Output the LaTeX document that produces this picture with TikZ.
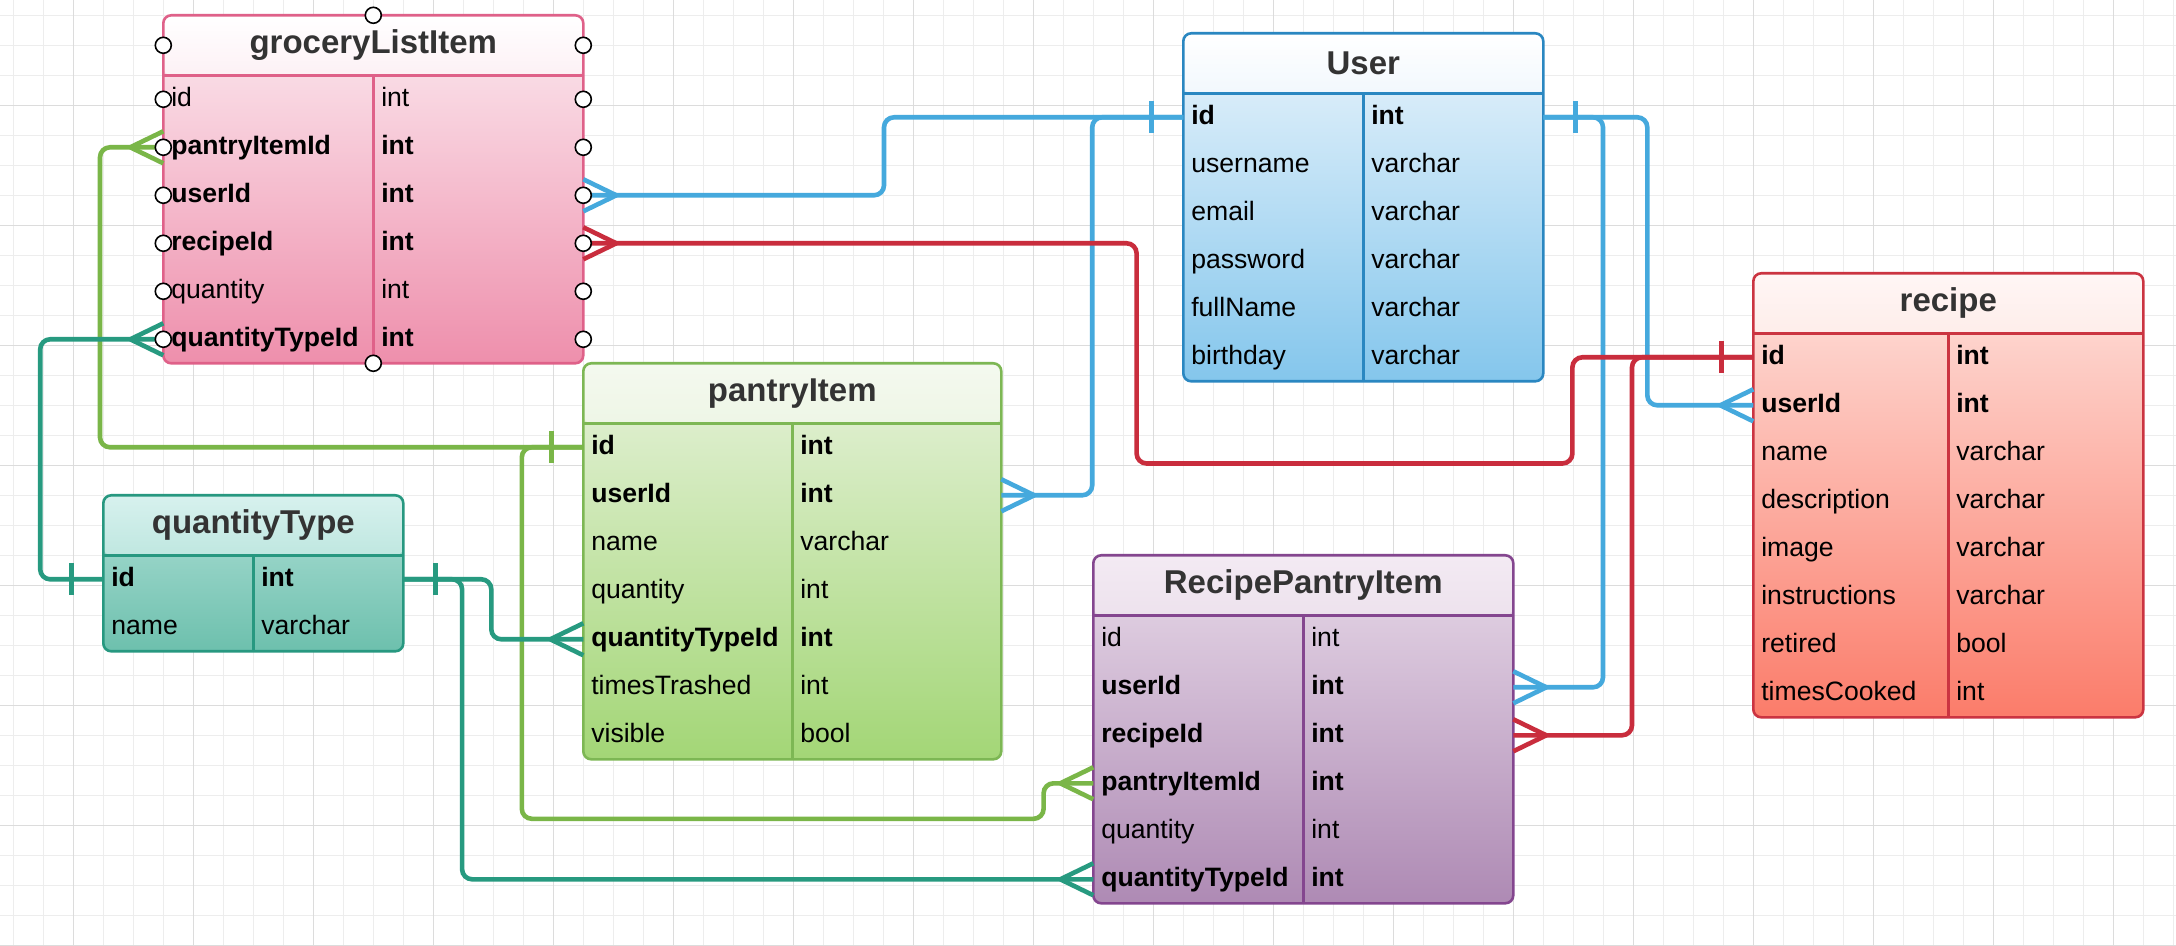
\documentclass[tikz,border=0pt]{standalone}
\usepackage{fontspec}
\setmainfont{Liberation Sans}
\usetikzlibrary{positioning}

\definecolor{gridMinor}{HTML}{EDEDED}
\definecolor{gridMajor}{HTML}{DCDCDC}
\definecolor{headText}{HTML}{333333}
% table colours
\definecolor{groceryLine}{HTML}{DF6189}
\definecolor{groceryHead}{HTML}{FDF1F5}
\definecolor{groceryTop}{HTML}{FCEAF0}
\definecolor{groceryBottom}{HTML}{EE8FAC}
\definecolor{userLine}{HTML}{2A87C1}
\definecolor{userHead}{HTML}{F2F8FD}
\definecolor{userTop}{HTML}{E9F4FC}
\definecolor{userBottom}{HTML}{84C6EC}
\definecolor{recipeLine}{HTML}{CB3441}
\definecolor{recipeHeadTop}{HTML}{FFF6F5}
\definecolor{recipeHead}{HTML}{FEEDEA}
\definecolor{recipeTop}{HTML}{FEE1DC}
\definecolor{recipeBottom}{HTML}{FB7C6A}
\definecolor{pantryLine}{HTML}{7DB754}
\definecolor{pantryHeadTop}{HTML}{F4F9EF}
\definecolor{pantryHead}{HTML}{EEF6E6}
\definecolor{pantryTop}{HTML}{E6F2DA}
\definecolor{pantryBottom}{HTML}{A3D676}
\definecolor{qtypeLine}{HTML}{279880}
\definecolor{qtypeHeadTop}{HTML}{D7F1EE}
\definecolor{qtypeHead}{HTML}{BFE7E0}
\definecolor{qtypeTop}{HTML}{AEDFD6}
\definecolor{qtypeBottom}{HTML}{6DC0AD}
\definecolor{rpiLine}{HTML}{84468F}
\definecolor{rpiHeadTop}{HTML}{F3EAF3}
\definecolor{rpiHead}{HTML}{EDE2ED}
\definecolor{rpiTop}{HTML}{E7D9E8}
\definecolor{rpiBottom}{HTML}{AE8AB4}
% relation colours
\definecolor{greenLink}{HTML}{7AB648}
\definecolor{tealLink}{HTML}{279A80}
\definecolor{blueLink}{HTML}{45A9DD}
\definecolor{redLink}{HTML}{C92D3D}

\newcommand{\rowfont}{\fontsize{13.3}{16}\selectfont}
\newcommand{\headfont}{\fontsize{16.5}{20}\selectfont\bfseries}

% ends of a relation: #1 style, #2 point on the table edge, #3 side (1 right, -1 left)
\newcommand{\manymark}[3]{\draw[#1] ([xshift=#3*16.5pt]#2) -- ([yshift=8pt]#2)
	([xshift=#3*16.5pt]#2) -- ([yshift=-8pt]#2);}
\newcommand{\onemark}[3]{\draw[#1] ([xshift=#3*16pt,yshift=8pt]#2) -- ([xshift=#3*16pt,yshift=-8pt]#2);}

\tikzset{
	erbox/.style={rectangle,inner sep=0pt,outer sep=0pt,rounded corners=4pt,anchor=north west},
	erhead/.style={rectangle,inner sep=0pt,outer sep=0pt,rounded corners=4pt,anchor=north,
		minimum height=30pt,text=headText,font=\headfont},
	erfield/.style={rectangle,inner sep=0pt,outer sep=0pt,text width=#1,align=left,
		minimum height=24pt,text height=8.4pt,text depth=1.6pt,font=\rowfont},
	erborder/.style={draw=#1,line width=1.3pt,rounded corners=4pt},
	erlink/.style={draw=#1,line width=2.3pt,rounded corners=5pt},
	erend/.style={draw=#1,line width=2.3pt},
	erhandle/.style={draw=black,fill=white,line width=0.8pt}
}

\begin{document}
\begin{tikzpicture}[x=0.5pt,y=-0.5pt]
	\useasboundingbox (0,0) rectangle (2176,946);
	\fill[white] (0,0) rectangle (2176,946);
	% grid
	\draw[gridMinor,line width=0.6pt,step=15pt,shift={(13.3,15.3)}] (-13.3,930.7) grid (2162.7,-15.3);
	\draw[gridMajor,line width=0.7pt,step=60pt,shift={(73.3,105.3)}] (-73.3,840.7) grid (2102.7,-105.3);

	% groceryListItem
	\node[erbox,minimum width=210pt,minimum height=174pt,top color=groceryTop,bottom color=groceryBottom] (grocery) at (163.3,15.3) {};
	\node[erhead,minimum width=210pt,top color=white,bottom color=groceryHead] (groceryHead) at (grocery.north) {groceryListItem};
	\node[erfield=97pt,anchor=north west] (gId) at ([xshift=4pt]groceryHead.south west) {id};
	\node[erfield=97pt,below=0pt of gId] (gPantryItemId) {\textbf{pantryItemId}};
	\node[erfield=97pt,below=0pt of gPantryItemId] (gUserId) {\textbf{userId}};
	\node[erfield=97pt,below=0pt of gUserId] (gRecipeId) {\textbf{recipeId}};
	\node[erfield=97pt,below=0pt of gRecipeId] (gQuantity) {quantity};
	\node[erfield=97pt,below=0pt of gQuantity] (gQuantityTypeId) {\textbf{quantityTypeId}};
	\node[erfield=97pt,right=8pt of gId] (gIdType) {int};
	\node[erfield=97pt,right=8pt of gPantryItemId] (gPantryItemIdType) {\textbf{int}};
	\node[erfield=97pt,right=8pt of gUserId] (gUserIdType) {\textbf{int}};
	\node[erfield=97pt,right=8pt of gRecipeId] (gRecipeIdType) {\textbf{int}};
	\node[erfield=97pt,right=8pt of gQuantity] (gQuantityType) {int};
	\node[erfield=97pt,right=8pt of gQuantityTypeId] (gQuantityTypeIdType) {\textbf{int}};
	\draw[erborder=groceryLine] (grocery.north west) rectangle (grocery.south east);
	\draw[erborder=groceryLine] (groceryHead.south west) -- (groceryHead.south east);
	\draw[erborder=groceryLine] (groceryHead.south) -- (grocery.south);

	% User
	\node[erbox,minimum width=180pt,minimum height=174pt,top color=userTop,bottom color=userBottom] (user) at (1183.3,33.3) {};
	\node[erhead,minimum width=180pt,top color=white,bottom color=userHead] (userHead) at (user.north) {User};
	\node[erfield=82pt,anchor=north west] (uId) at ([xshift=4pt]userHead.south west) {\textbf{id}};
	\node[erfield=82pt,below=0pt of uId] (uUsername) {username};
	\node[erfield=82pt,below=0pt of uUsername] (uEmail) {email};
	\node[erfield=82pt,below=0pt of uEmail] (uPassword) {password};
	\node[erfield=82pt,below=0pt of uPassword] (uFullName) {fullName};
	\node[erfield=82pt,below=0pt of uFullName] (uBirthday) {birthday};
	\node[erfield=82pt,right=8pt of uId] (uIdType) {\textbf{int}};
	\node[erfield=82pt,right=8pt of uUsername] (uUsernameType) {varchar};
	\node[erfield=82pt,right=8pt of uEmail] (uEmailType) {varchar};
	\node[erfield=82pt,right=8pt of uPassword] (uPasswordType) {varchar};
	\node[erfield=82pt,right=8pt of uFullName] (uFullNameType) {varchar};
	\node[erfield=82pt,right=8pt of uBirthday] (uBirthdayType) {varchar};
	\draw[erborder=userLine] (user.north west) rectangle (user.south east);
	\draw[erborder=userLine] (userHead.south west) -- (userHead.south east);
	\draw[erborder=userLine] (userHead.south) -- (user.south);

	% recipe
	\node[erbox,minimum width=195pt,minimum height=222pt,top color=recipeTop,bottom color=recipeBottom] (recipe) at (1753.3,273.3) {};
	\node[erhead,minimum width=195pt,top color=recipeHeadTop,bottom color=recipeHead] (recipeHead) at (recipe.north) {recipe};
	\node[erfield=89.5pt,anchor=north west] (cId) at ([xshift=4pt]recipeHead.south west) {\textbf{id}};
	\node[erfield=89.5pt,below=0pt of cId] (cUserId) {\textbf{userId}};
	\node[erfield=89.5pt,below=0pt of cUserId] (cName) {name};
	\node[erfield=89.5pt,below=0pt of cName] (cDescription) {description};
	\node[erfield=89.5pt,below=0pt of cDescription] (cImage) {image};
	\node[erfield=89.5pt,below=0pt of cImage] (cInstructions) {instructions};
	\node[erfield=89.5pt,below=0pt of cInstructions] (cRetired) {retired};
	\node[erfield=89.5pt,below=0pt of cRetired] (cTimesCooked) {timesCooked};
	\node[erfield=89.5pt,right=8pt of cId] (cIdType) {\textbf{int}};
	\node[erfield=89.5pt,right=8pt of cUserId] (cUserIdType) {\textbf{int}};
	\node[erfield=89.5pt,right=8pt of cName] (cNameType) {varchar};
	\node[erfield=89.5pt,right=8pt of cDescription] (cDescriptionType) {varchar};
	\node[erfield=89.5pt,right=8pt of cImage] (cImageType) {varchar};
	\node[erfield=89.5pt,right=8pt of cInstructions] (cInstructionsType) {varchar};
	\node[erfield=89.5pt,right=8pt of cRetired] (cRetiredType) {bool};
	\node[erfield=89.5pt,right=8pt of cTimesCooked] (cTimesCookedType) {int};
	\draw[erborder=recipeLine] (recipe.north west) rectangle (recipe.south east);
	\draw[erborder=recipeLine] (recipeHead.south west) -- (recipeHead.south east);
	\draw[erborder=recipeLine] (recipeHead.south) -- (recipe.south);

	% pantryItem
	\node[erbox,minimum width=209pt,minimum height=198pt,top color=pantryTop,bottom color=pantryBottom] (pantry) at (583.3,363.3) {};
	\node[erhead,minimum width=209pt,top color=pantryHeadTop,bottom color=pantryHead] (pantryHead) at (pantry.north) {pantryItem};
	\node[erfield=96.5pt,anchor=north west] (pId) at ([xshift=4pt]pantryHead.south west) {\textbf{id}};
	\node[erfield=96.5pt,below=0pt of pId] (pUserId) {\textbf{userId}};
	\node[erfield=96.5pt,below=0pt of pUserId] (pName) {name};
	\node[erfield=96.5pt,below=0pt of pName] (pQuantity) {quantity};
	\node[erfield=96.5pt,below=0pt of pQuantity] (pQuantityTypeId) {\textbf{quantityTypeId}};
	\node[erfield=96.5pt,below=0pt of pQuantityTypeId] (pTimesTrashed) {timesTrashed};
	\node[erfield=96.5pt,below=0pt of pTimesTrashed] (pVisible) {visible};
	\node[erfield=96.5pt,right=8pt of pId] (pIdType) {\textbf{int}};
	\node[erfield=96.5pt,right=8pt of pUserId] (pUserIdType) {\textbf{int}};
	\node[erfield=96.5pt,right=8pt of pName] (pNameType) {varchar};
	\node[erfield=96.5pt,right=8pt of pQuantity] (pQuantityType) {int};
	\node[erfield=96.5pt,right=8pt of pQuantityTypeId] (pQuantityTypeIdType) {\textbf{int}};
	\node[erfield=96.5pt,right=8pt of pTimesTrashed] (pTimesTrashedType) {int};
	\node[erfield=96.5pt,right=8pt of pVisible] (pVisibleType) {bool};
	\draw[erborder=pantryLine] (pantry.north west) rectangle (pantry.south east);
	\draw[erborder=pantryLine] (pantryHead.south west) -- (pantryHead.south east);
	\draw[erborder=pantryLine] (pantryHead.south) -- (pantry.south);

	% quantityType
	\node[erbox,minimum width=150pt,minimum height=78pt,top color=qtypeTop,bottom color=qtypeBottom] (qtype) at (103.3,495.3) {};
	\node[erhead,minimum width=150pt,top color=qtypeHeadTop,bottom color=qtypeHead] (qtypeHead) at (qtype.north) {quantityType};
	\node[erfield=67pt,anchor=north west] (qId) at ([xshift=4pt]qtypeHead.south west) {\textbf{id}};
	\node[erfield=67pt,below=0pt of qId] (qName) {name};
	\node[erfield=67pt,right=8pt of qId] (qIdType) {\textbf{int}};
	\node[erfield=67pt,right=8pt of qName] (qNameType) {varchar};
	\draw[erborder=qtypeLine] (qtype.north west) rectangle (qtype.south east);
	\draw[erborder=qtypeLine] (qtypeHead.south west) -- (qtypeHead.south east);
	\draw[erborder=qtypeLine] (qtypeHead.south) -- (qtype.south);

	% RecipePantryItem
	\node[erbox,minimum width=210pt,minimum height=174pt,top color=rpiTop,bottom color=rpiBottom] (rpi) at (1093.3,555.3) {};
	\node[erhead,minimum width=210pt,top color=rpiHeadTop,bottom color=rpiHead] (rpiHead) at (rpi.north) {RecipePantryItem};
	\node[erfield=97pt,anchor=north west] (rId) at ([xshift=4pt]rpiHead.south west) {id};
	\node[erfield=97pt,below=0pt of rId] (rUserId) {\textbf{userId}};
	\node[erfield=97pt,below=0pt of rUserId] (rRecipeId) {\textbf{recipeId}};
	\node[erfield=97pt,below=0pt of rRecipeId] (rPantryItemId) {\textbf{pantryItemId}};
	\node[erfield=97pt,below=0pt of rPantryItemId] (rQuantity) {quantity};
	\node[erfield=97pt,below=0pt of rQuantity] (rQuantityTypeId) {\textbf{quantityTypeId}};
	\node[erfield=97pt,right=8pt of rId] (rIdType) {int};
	\node[erfield=97pt,right=8pt of rUserId] (rUserIdType) {\textbf{int}};
	\node[erfield=97pt,right=8pt of rRecipeId] (rRecipeIdType) {\textbf{int}};
	\node[erfield=97pt,right=8pt of rPantryItemId] (rPantryItemIdType) {\textbf{int}};
	\node[erfield=97pt,right=8pt of rQuantity] (rQuantityType) {int};
	\node[erfield=97pt,right=8pt of rQuantityTypeId] (rQuantityTypeIdType) {\textbf{int}};
	\draw[erborder=rpiLine] (rpi.north west) rectangle (rpi.south east);
	\draw[erborder=rpiLine] (rpiHead.south west) -- (rpiHead.south east);
	\draw[erborder=rpiLine] (rpiHead.south) -- (rpi.south);

	% bends of the relations
	\coordinate (greenLeft) at (100,0);
	\coordinate (greenDown) at (521.8,818.8);
	\coordinate (greenUp) at (1043.6,0);
	\coordinate (tealLeft) at (40.2,0);
	\coordinate (tealRight) at (491.3,0);
	\coordinate (tealDown) at (462.1,0);
	\coordinate (blueLeft) at (884,0);
	\coordinate (blueDown) at (1092.2,0);
	\coordinate (blueRight) at (1647.3,0);
	\coordinate (blueRightDown) at (1603,0);
	\coordinate (redTurn) at (1572.4,463.5);
	\coordinate (redLeft) at (1136.6,0);
	\coordinate (redDown) at (1632,0);

	% pantryItem.id
	\draw[erlink=greenLink] (pantry.west |- pId) -| (greenLeft |- gPantryItemId) -- (grocery.west |- gPantryItemId);
	\draw[erlink=greenLink] (pantry.west |- pId) -| (greenDown) -| (greenUp |- rPantryItemId) -- (rpi.west |- rPantryItemId);
	% quantityType.id
	\draw[erlink=tealLink] (qtype.west |- qId) -| (tealLeft |- gQuantityTypeId) -- (grocery.west |- gQuantityTypeId);
	\draw[erlink=tealLink] (qtype.east |- qId) -| (tealRight |- pQuantityTypeId) -- (pantry.west |- pQuantityTypeId);
	\draw[erlink=tealLink] (qtype.east |- qId) -| (tealDown |- rQuantityTypeId) -- (rpi.west |- rQuantityTypeId);
	% User.id
	\draw[erlink=blueLink] (user.west |- uId) -| (blueLeft |- gUserId) -- (grocery.east |- gUserId);
	\draw[erlink=blueLink] (user.west |- uId) -| (blueDown |- pUserId) -- (pantry.east |- pUserId);
	\draw[erlink=blueLink] (user.east |- uId) -| (blueRight |- cUserId) -- (recipe.west |- cUserId);
	\draw[erlink=blueLink] (user.east |- uId) -| (blueRightDown |- rUserId) -- (rpi.east |- rUserId);
	% recipe.id
	\draw[erlink=redLink] (recipe.west |- cId) -| (redTurn) -| (redLeft |- gRecipeId) -- (grocery.east |- gRecipeId);
	\draw[erlink=redLink] (recipe.west |- cId) -| (redDown |- rRecipeId) -- (rpi.east |- rRecipeId);

	% one and many ends
	\onemark{erend=greenLink}{pantry.west |- pId}{-1}
	\manymark{erend=greenLink}{grocery.west |- gPantryItemId}{-1}
	\manymark{erend=greenLink}{rpi.west |- rPantryItemId}{-1}
	\onemark{erend=tealLink}{qtype.west |- qId}{-1}
	\onemark{erend=tealLink}{qtype.east |- qId}{1}
	\manymark{erend=tealLink}{grocery.west |- gQuantityTypeId}{-1}
	\manymark{erend=tealLink}{pantry.west |- pQuantityTypeId}{-1}
	\manymark{erend=tealLink}{rpi.west |- rQuantityTypeId}{-1}
	\onemark{erend=blueLink}{user.west |- uId}{-1}
	\onemark{erend=blueLink}{user.east |- uId}{1}
	\manymark{erend=blueLink}{grocery.east |- gUserId}{1}
	\manymark{erend=blueLink}{pantry.east |- pUserId}{1}
	\manymark{erend=blueLink}{recipe.west |- cUserId}{-1}
	\manymark{erend=blueLink}{rpi.east |- rUserId}{1}
	\onemark{erend=redLink}{recipe.west |- cId}{-1}
	\manymark{erend=redLink}{grocery.east |- gRecipeId}{1}
	\manymark{erend=redLink}{rpi.east |- rRecipeId}{1}

	% selection handles on groceryListItem
	\draw[erhandle] (grocery.north) circle (4pt) (grocery.south) circle (4pt)
		(grocery.west |- groceryHead) circle (4pt) (grocery.east |- groceryHead) circle (4pt);
	\draw[erhandle] (grocery.west |- gId) circle (4pt) (grocery.east |- gId) circle (4pt)
		(grocery.west |- gPantryItemId) circle (4pt) (grocery.east |- gPantryItemId) circle (4pt)
		(grocery.west |- gUserId) circle (4pt) (grocery.east |- gUserId) circle (4pt)
		(grocery.west |- gRecipeId) circle (4pt) (grocery.east |- gRecipeId) circle (4pt)
		(grocery.west |- gQuantity) circle (4pt) (grocery.east |- gQuantity) circle (4pt)
		(grocery.west |- gQuantityTypeId) circle (4pt) (grocery.east |- gQuantityTypeId) circle (4pt);
\end{tikzpicture}
\end{document}
